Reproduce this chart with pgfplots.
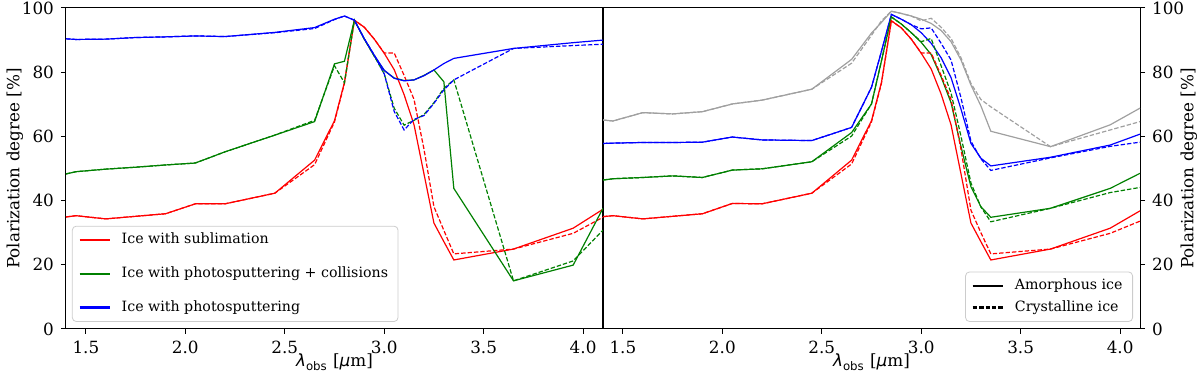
\documentclass[border=0pt]{standalone}
\usepackage{fontspec}
\setmainfont{DejaVu Serif}
\newfontfamily\dvsans{DejaVu Sans}
\usepackage{pgfplots}
\pgfplotsset{compat=1.18}
\usepackage{pgfplotstable}

\definecolor{cred}{RGB}{255,0,0}
\definecolor{cgreen}{RGB}{0,128,0}
\definecolor{cblue}{RGB}{0,0,255}
\definecolor{cgray}{RGB}{160,160,160}

% left panel: rs/rd = sublimation, gs/gd = photosputtering + collisions, bs/bd = photosputtering
\pgfplotstableread{
x     rs    rd    gs    gd    bs    bd
1.40  34.9  34.9  48.3  48.3  90.4  90.4
1.45  35.3  35.3  49.0  49.0  90.2  90.2
1.60  34.3  34.3  49.8  49.8  90.3  90.3
1.75  35.1  35.1  50.4  50.4  90.8  90.8
1.90  35.9  35.9  51.1  51.1  91.0  91.0
2.05  39.0  39.0  51.7  51.7  91.3  91.3
2.20  39.0  39.0  55.2  55.2  91.1  91.1
2.45  42.3  42.3  60.4  60.4  92.4  92.3
2.65  52.6  51.2  64.6  65.0  93.9  93.6
2.75  64.9  64.5  82.6  82.0  96.5  96.4
2.80  76.8  76.5  83.4  76.7  97.5  97.5
2.85  96.2  96.2  96.2  96.2  96.2  96.2
2.90  94.0  94.0  90.3  90.3  90.4  90.4
2.95  90.3  90.3  85.0  85.0  85.3  85.3
3.00  85.9  86.0  80.5  79.5  80.6  79.5
3.05  80.8  86.0  78.2  68.8  78.1  67.8
3.10  73.0  79.0  77.4  63.5  77.3  62.0
3.15  63.6  71.5  77.6  65.0  77.6  65.3
3.20  48.3  56.0  79.0  66.8  78.9  66.5
3.25  33.0  38.1  80.7  70.5  80.7  70.3
3.30  27.2  30.7  77.0  75.0  82.7  74.5
3.35  21.5  23.4  43.8  77.6  84.3  77.6
3.65  24.9  24.9  15.0  15.0  87.4  87.4
3.95  31.4  29.8  19.9  21.2  89.2  88.3
4.10  37.3  34.8  37.6  30.8  90.0  88.7
}\leftdata

% right panel: s = amorphous, d = crystalline; k = gray
\pgfplotstableread{
x     rs    rd    gs    gd    bs    bd    ks    kd
1.40  35.0  35.0  46.4  46.4  57.8  57.8  65.1  65.1
1.45  35.3  35.3  46.8  46.8  57.9  57.9  64.8  64.8
1.60  34.3  34.3  47.2  47.2  58.1  58.1  67.4  67.4
1.75  35.1  35.1  47.7  47.7  58.1  58.1  67.0  67.0
1.90  35.9  35.9  47.2  47.2  58.2  58.2  67.7  67.7
2.05  39.1  39.1  49.5  49.5  59.8  59.8  70.1  70.1
2.20  39.0  39.0  49.9  49.9  58.9  58.9  71.3  71.3
2.45  42.3  42.3  52.1  52.1  58.7  58.7  74.7  74.7
2.65  52.6  51.4  61.2  60.1  62.8  62.8  84.0  82.8
2.75  64.9  64.5  70.1  70.1  75.3  75.3  92.2  91.5
2.80  76.8  76.5  83.5  83.5  86.5  86.5  95.5  96.0
2.85  96.0  96.0  97.2  97.2  98.0  98.0  99.0  99.0
2.90  93.8  93.8  95.0  95.0  96.5  96.5  98.3  98.3
2.95  90.3  90.3  92.3  92.3  94.8  94.8  97.5  97.5
3.00  85.9  86.0  89.3  89.5  92.3  93.5  96.5  96.0
3.05  81.0  86.0  85.5  90.5  89.0  93.8  95.2  96.8
3.10  73.2  79.0  78.5  82.0  84.5  89.0  93.0  94.0
3.15  63.6  71.5  70.5  73.5  78.3  83.8  89.5  90.5
3.20  48.3  56.0  56.8  60.0  68.5  72.0  83.8  84.5
3.25  33.0  37.0  44.3  45.5  57.8  58.5  76.0  76.5
3.30  27.2  30.0  38.1  38.0  53.2  53.0  69.5  71.5
3.35  21.5  23.4  34.8  33.4  50.8  49.4  61.6  69.2
3.65  24.9  24.9  37.6  37.6  53.5  53.3  56.8  56.8
3.95  31.4  29.8  43.8  42.5  57.3  56.9  63.6  62.0
4.10  36.8  33.6  48.5  44.1  60.7  58.2  68.8  64.6
}\rightdata

\pgfplotsset{
  panel/.style={
    scale only axis, width=268.5pt, height=160.5pt,
    xmin=1.4, xmax=4.1, ymin=0, ymax=100,
    xtick={1.5,2.0,2.5,3.0,3.5,4.0},
    ytick={0,20,40,60,80,100},
    tick align=outside, major tick length=2.5pt,
    tick style={line width=0.5pt, black},
    axis line style={line width=0.5pt},
    /pgf/number format/assume math mode=true,
    xticklabel style={/pgf/number format/.cd, fixed, fixed zerofill, precision=1},
    ticklabel style={font=\fontsize{8.4}{10}\selectfont},
    label style={font=\fontsize{8.4}{10}\selectfont},
    xlabel={{\dvsans\itshape λ}\textsubscript{\dvsans obs} [{\dvsans\itshape μ}m]},
    xlabel style={at={(axis description cs:0.5,-0.103)}, anchor=center},
    every axis plot/.append style={line width=0.6pt},
    legend style={font=\fontsize{7.1}{8.5}\selectfont, draw=black!20,
      rounded corners=2pt, fill=white,
      inner xsep=3pt, inner ysep=1.5pt, column sep=3.5pt},
    legend cell align=left,
    legend image code/.code={\draw[##1, line width=1.2pt] (0pt,0pt) -- (15pt,0pt);},
  },
  dsh/.style={dash pattern=on 2.2pt off 1pt},
}

\begin{document}
\begin{tikzpicture}
\begin{axis}[panel,
  xtick pos=left, ytick pos=left,
  ylabel={Polarization degree [\%]},
  ylabel style={at={(axis description cs:-0.095,0.5)}, anchor=center},
  legend style={at={(0.011,0.022)}, anchor=south west, row sep=6pt},
]
\addplot[cred] table[x=x,y=rs]{\leftdata};
\addlegendentry{Ice with sublimation}
\addplot[cred,dsh,forget plot] table[x=x,y=rd]{\leftdata};
\addplot[cgreen] table[x=x,y=gs]{\leftdata};
\addlegendentry{Ice with photosputtering + collisions}
\addplot[cgreen,dsh,forget plot] table[x=x,y=gd]{\leftdata};
\addplot[cblue] table[x=x,y=bs]{\leftdata};
\addlegendentry{Ice with photosputtering}
\addplot[cblue,dsh,forget plot] table[x=x,y=bd]{\leftdata};
\end{axis}

\begin{axis}[panel, at={(268.5pt,0pt)}, anchor=south west,
  xtick pos=left, ytick pos=right, yticklabel pos=right,
  ylabel={Polarization degree [\%]},
  ylabel style={at={(axis description cs:1.0912,0.5)}, anchor=center},
  legend style={at={(0.987,0.022)}, anchor=south east, row sep=0pt},
]
\addplot[cgray,forget plot] table[x=x,y=ks]{\rightdata};
\addplot[cgray,dsh,forget plot] table[x=x,y=kd]{\rightdata};
\addplot[cblue,forget plot] table[x=x,y=bs]{\rightdata};
\addplot[cblue,dsh,forget plot] table[x=x,y=bd]{\rightdata};
\addplot[cgreen,forget plot] table[x=x,y=gs]{\rightdata};
\addplot[cgreen,dsh,forget plot] table[x=x,y=gd]{\rightdata};
\addplot[cred,forget plot] table[x=x,y=rs]{\rightdata};
\addplot[cred,dsh,forget plot] table[x=x,y=rd]{\rightdata};
\addlegendimage{black}
\addlegendentry{Amorphous ice}
\addlegendimage{black,dsh}
\addlegendentry{Crystalline ice}
\end{axis}
\pgfresetboundingbox
\path[use as bounding box] (-33pt,-22pt) rectangle (567pt,164.5pt);
\end{tikzpicture}
\end{document}
